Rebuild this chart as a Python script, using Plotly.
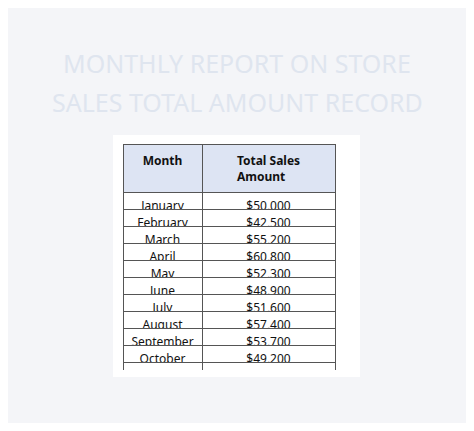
import plotly.graph_objects as go

months = ["January", "February", "March", "April", "May", "June", "July",
          "August", "September", "October", "November", "December"]
sales = [50000, 42500, 55200, 60800, 52300, 48900, 51600,
         57400, 53700, 49200, 62100, 68500]
sales_labels = ["${:,}".format(v) for v in sales]

# page body has an 8px margin, so the figure is a bit smaller than the window
W, H = 458, 415
OFF = 8

def px_x(x):
    return (x - OFF) / W

def px_y(y):
    return 1 - (y - OFF) / H

fig = go.Figure(go.Table(
    domain=dict(x=[px_x(123), px_x(335)], y=[px_y(370), px_y(144)]),
    columnwidth=[79, 133],
    header=dict(values=["<b>Month</b>", "<b>Total Sales Amount</b>"],
                fill_color="#dde4f3", line_color="#555555",
                font=dict(family="Noto Sans", size=12, color="#111111"),
                align="center", height=17),
    cells=dict(values=[months, sales_labels],
               fill_color="white", line_color="#555555",
               font=dict(family="Noto Sans", size=12, color="#111111"),
               align="center", height=17),
))

# white panel behind the table
fig.add_shape(type="rect", xref="paper", yref="paper",
              x0=px_x(113), x1=px_x(360), y0=px_y(377), y1=px_y(135),
              fillcolor="white", line_width=0, layer="below")

for text, y in [("MONTHLY REPORT ON STORE", 63), ("SALES TOTAL AMOUNT RECORD", 102)]:
    fig.add_annotation(text=text, xref="paper", yref="paper", x=px_x(237), y=px_y(y),
                       showarrow=False, xanchor="center", yanchor="middle",
                       font=dict(family="Noto Sans", size=25, color="#dfe5ef"))

fig.update_layout(width=W, height=H, margin=dict(l=0, r=0, t=0, b=0),
                  paper_bgcolor="#f4f5f8", plot_bgcolor="#f4f5f8")

fig.write_html("out.html")
